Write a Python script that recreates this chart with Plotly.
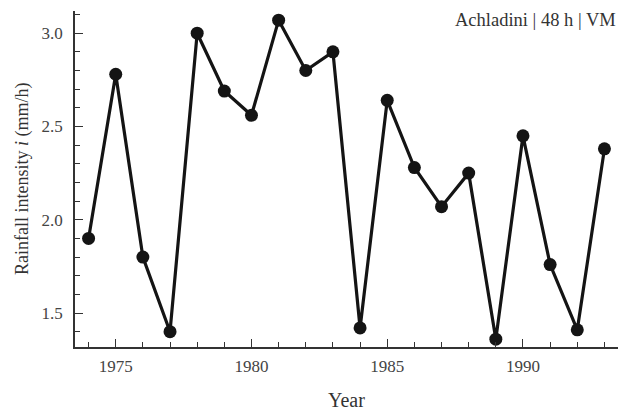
import plotly.graph_objects as go

years = list(range(1974, 1994))
intensity = [1.90, 2.78, 1.80, 1.40, 3.00, 2.69, 2.56, 3.07, 2.80, 2.90,
             1.42, 2.64, 2.28, 2.07, 2.25, 1.36, 2.45, 1.76, 1.41, 2.38]
x_ticks = [1975, 1980, 1985, 1990]
y_ticks = [1.5, 2.0, 2.5, 3.0]

font_family = "Liberation Serif, Times New Roman, serif"

fig = go.Figure()
fig.add_trace(go.Scatter(
    x=years, y=intensity, mode="lines+markers",
    line=dict(color="#141414", width=3.2),
    marker=dict(color="#141414", size=13),
    showlegend=False, cliponaxis=False,
))

axis_common = dict(
    showgrid=False, zeroline=False, showline=True, linecolor="#333", linewidth=1.5,
    ticks="inside", ticklen=8, tickwidth=1.2, tickcolor="#333",
    tickfont=dict(family=font_family, size=17, color="#444"),
    mirror=False, automargin=False,
)

fig.update_xaxes(
    range=[1973.5, 1993.5], tickvals=x_ticks, ticktext=[str(v) for v in x_ticks],
    minor=dict(dtick=1, tick0=1974, ticks="inside", ticklen=5, tickcolor="#333", tickwidth=1.2),
    ticklabelstandoff=3,
    **axis_common,
)
fig.update_yaxes(
    range=[1.318, 3.119], tickvals=y_ticks, ticktext=["1.5", "2.0", "2.5", "3.0"],
    minor=dict(dtick=0.1, tick0=1.3, ticks="inside", ticklen=5, tickcolor="#333", tickwidth=1.2),
    ticklabelstandoff=7,
    **axis_common,
)

fig.add_annotation(
    text="Rainfall intensity <i>i</i> (mm/h)", xref="paper", yref="paper",
    x=0, y=0.5, xshift=-53, xanchor="center", yanchor="middle", textangle=-90,
    showarrow=False, font=dict(family=font_family, size=18, color="#333"),
)
fig.add_annotation(
    text="Year", xref="paper", yref="paper",
    x=0.5, y=0, yshift=-53, xanchor="center", yanchor="middle",
    showarrow=False, font=dict(family=font_family, size=20, color="#333"),
)
fig.add_annotation(
    text="Achladini | 48 h | VM", xref="paper", yref="paper", x=1, y=1,
    yshift=-9, xanchor="right", yanchor="middle", showarrow=False,
    font=dict(family=font_family, size=18.5, color="#333"),
)

fig.update_layout(
    width=620, height=410,
    margin=dict(l=75, r=2, t=11, b=63),
    plot_bgcolor="white", paper_bgcolor="white",
)

fig.write_html("out.html", config={"displayModeBar": False},
               post_script="document.body.style.margin='0';document.body.style.overflow='hidden';")
